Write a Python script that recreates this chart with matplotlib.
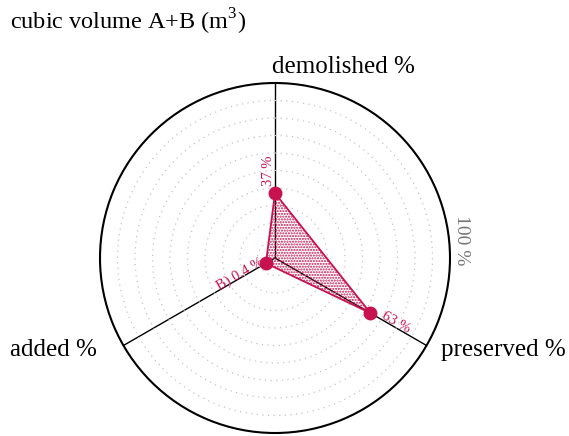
import numpy as np
import matplotlib
matplotlib.use("Agg")
import matplotlib.pyplot as plt

plt.rcParams['font.family'] = ['Liberation Serif', 'DejaVu Serif']
plt.rcParams['mathtext.fontset'] = 'custom'
plt.rcParams['mathtext.rm'] = 'Liberation Serif'
plt.rcParams['hatch.linewidth'] = 1.0

# data
categories = ["demolished %", "preserved %", "added %"]
values_b = [37, 63, 6]            # radial positions
value_labels = ["37 %", "63 %", "B) 0.4 %"]
title = "cubic volume A+B (m$^{\\mathrm{3}}$)"
r_ticks = [10, 20, 30, 40, 50, 60, 70, 80, 90]

red = '#C8124F'

W, H = 569, 436
fig = plt.figure(figsize=(W / 100, H / 100), dpi=100)
cx, cy, R = 275, 258, 175
ax = fig.add_axes([(cx - R) / W, (H - cy - R) / H, 2 * R / W, 2 * R / H], projection='polar')
ax.set_theta_zero_location('N')
ax.set_theta_direction(-1)
ax.set_ylim(0, 100)

angles = np.deg2rad([0, 120, 240])
ax.set_xticks(angles)
ax.set_xticklabels([])
ax.set_yticks(r_ticks)
ax.set_yticklabels([])
ax.tick_params(length=0)
ax.yaxis.grid(True, color='#c4c4c4', linestyle=(0, (1, 3.5)), linewidth=0.9)
ax.xaxis.grid(True, color='black', linestyle='-', linewidth=1.0)
ax.spines['polar'].set_linewidth(1.5)
ax.spines['polar'].set_color('black')

th = np.append(angles, angles[0])
rv = np.append(values_b, values_b[0])
ax.fill(th, rv, facecolor='none', edgecolor=red, hatch='......', linewidth=0, zorder=2)
ax.plot(th, rv, color=red, linewidth=1.3, zorder=3)
ax.plot(angles, values_b, 'o', color=red, markersize=9, zorder=4)

# value labels
offsets = [(-7, 22), (25, -9), (-26, -11)]
rots = [90, -30, 30]
for a, v, lab, off, rot in zip(angles, values_b, value_labels, offsets, rots):
    ax.annotate(lab, (a, v), xytext=off, textcoords='offset pixels', ha='center', va='center',
                rotation=rot, rotation_mode='anchor', color=red, fontsize=10.5, zorder=5)

# radial max label
ax.text(np.deg2rad(84.5), 107, "100 %", rotation=270, ha='center', va='center',
        color='#777777', fontsize=14)

# category labels
fig.text(343 / W, 1 - 73 / H, categories[0], ha='center', va='baseline', fontsize=18)
fig.text(441 / W, 1 - 356 / H, categories[1], ha='left', va='baseline', fontsize=18)
fig.text(10 / W, 1 - 356 / H, categories[2], ha='left', va='baseline', fontsize=18)

fig.text(10 / W, 1 - 30 / H, title, ha='left', va='baseline', fontsize=17.5)

fig.savefig("out.png", dpi=100)
